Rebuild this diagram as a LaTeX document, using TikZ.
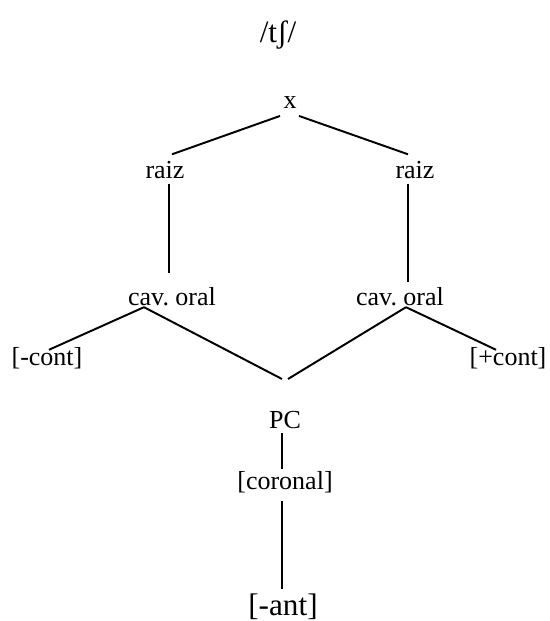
\documentclass[tikz,border=0pt]{standalone}
\usepackage{fontspec}
\setmainfont{Liberation Serif}
\frenchspacing
\begin{document}
\begin{tikzpicture}[x=0.4615pt, y=-0.4615pt, line width=0.9pt,
    every node/.style={inner sep=0pt, font=\fontsize{12}{14}\selectfont},
    big/.style={font=\fontsize{14.4}{17}\selectfont}]
    \useasboundingbox (0,0) rectangle (549,621);
    \node[big] (title) at (278,35) {/tʃ/};
    \node (x) at (290,103) {x};
    \node (raizL) at (165,170) {raiz};
    \node (raizR) at (415,170) {raiz};
    \node (cavL) at (172,297) {cav. oral};
    \node (cavR) at (400,297) {cav. oral};
    \node (contL) at (47,358) {[-cont]};
    \node (contR) at (508,358) {[+cont]};
    \coordinate (v) at (285,379);
    \node (pc) at (285,420) {PC};
    \node (cor) at (285,482) {[coronal]};
    \node[big] (ant) at (283,607) {[-ant]};
    % x to the two roots
    \draw ([shift={(-10,6)}]x.south) -- ([shift={(7,-6)}]raizL.north);
    \draw ([shift={(9,6)}]x.south) -- ([shift={(-7,-6)}]raizR.north);
    \draw ([shift={(4,4)}]raizL.south) -- ([shift={(-3,-14)}]cavL.north);
    \draw ([shift={(-7,4)}]raizR.south) -- ([shift={(8,-5)}]cavR.north);
    % oral cavity nodes
    \draw ([shift={(-28,0)}]cavL.south) -- ([shift={(2,3.5)}]contL.north);
    \draw ([shift={(-28,0)}]cavL.south) -- ([shift={(-3,0)}]v);
    \draw ([shift={(6,0)}]cavR.south) -- ([shift={(-12,3.5)}]contR.north);
    \draw ([shift={(6,0)}]cavR.south) -- ([shift={(3,0)}]v);
    % place
    \draw ([shift={(-3,3.5)}]pc.south) -- ([shift={(-3,-1.5)}]cor.north);
    \draw ([shift={(-3,7.5)}]cor.south) -- ([shift={(-1,-4.5)}]ant.north);
\end{tikzpicture}
\end{document}
